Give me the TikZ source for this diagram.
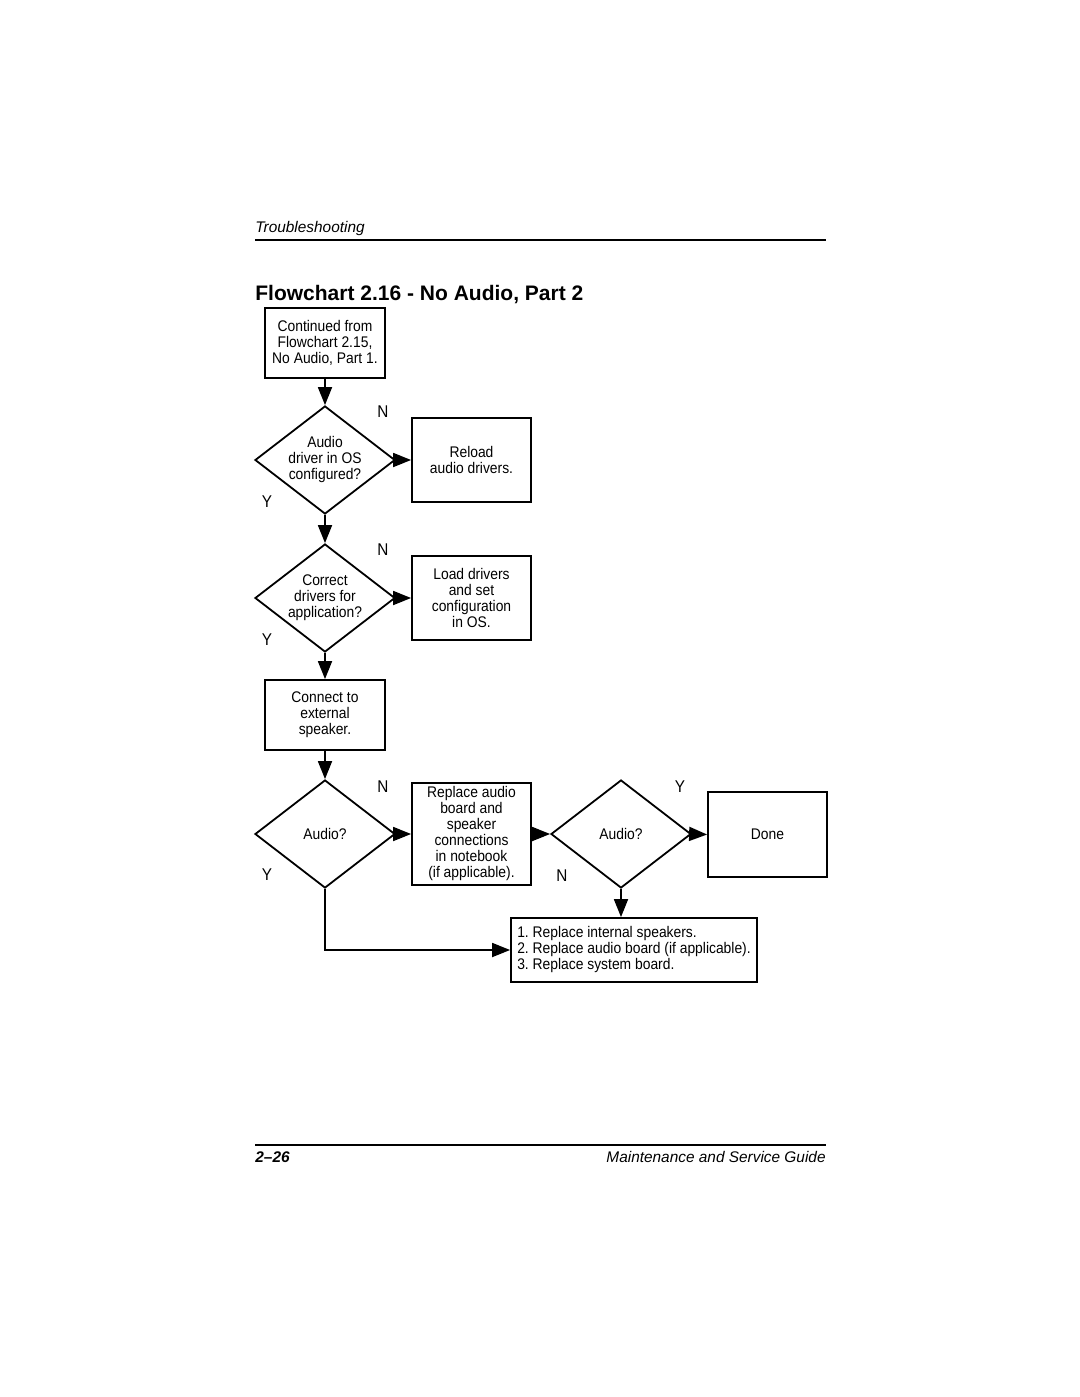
\documentclass[tikz,border=0pt]{standalone}
\usepackage{fontspec}
\setmainfont{Liberation Sans}
\newfontfamily\cond[FakeStretch=0.9]{Liberation Sans}
\usetikzlibrary{shapes.geometric,arrows.meta}
\frenchspacing
\begin{document}
\begin{tikzpicture}[x=0.5pt,y=-0.5pt,
  every node/.style={font=\cond\fontsize{7.7}{8}\selectfont},
  box/.style={draw,line width=0.9pt,align=center,inner sep=0pt},
  dia/.style={draw,line width=0.9pt,shape=diamond,align=center,inner sep=0pt,aspect=1.3,minimum width=70pt,minimum height=54pt},
  arr/.style={line width=0.9pt,-{Triangle[length=9pt,width=7pt]}},
  yn/.style={inner sep=0pt,font=\cond\fontsize{8.5}{9}\selectfont}]
\useasboundingbox (0,0) rectangle (1080,1397);
% header
\node[anchor=base west,inner sep=0pt,font=\itshape\fontsize{7.7}{8}\selectfont] (hdr) at (255,232) {Troubleshooting};
\draw[line width=0.6pt] (255,240) coordinate (hl) -- (826,240) coordinate (hr);
\node[anchor=base west,inner sep=0pt,font=\bfseries\fontsize{10.5}{12}\selectfont] (title) at (255,300) {Flowchart 2.16 - No Audio, Part 2};
% nodes
\node[box,minimum width=60pt,minimum height=35pt] (b1) at (325,343) {Continued from\\Flowchart 2.15,\\No Audio, Part 1.};
\node[dia] (d1) at (325,460) {Audio\\driver in OS\\configured?};
\node[box,minimum width=59.5pt,minimum height=42pt] (reload) at (471.5,460) {Reload\\audio drivers.};
\node[dia] (d2) at (325,598) {Correct\\drivers for\\application?};
\node[box,minimum width=59.5pt,minimum height=42pt] (load) at (471.5,598) {Load drivers\\and set\\configuration\\in OS.};
\node[box,minimum width=60pt,minimum height=35pt] (b3) at (325,715) {Connect to\\external\\speaker.};
\node[dia] (d3) at (325,834) {Audio?};
\node[box,minimum width=59.5pt,minimum height=51pt] (b4) at (471.5,834) {Replace audio\\board and\\speaker\\connections\\in notebook\\(if applicable).};
\node[dia] (d4) at (621,834) {Audio?};
\node[box,minimum width=59.5pt,minimum height=42.5pt] (done) at (767.5,834.5) {Done};
\node[box,minimum width=123pt,minimum height=32pt,align=left] (b5) at (634,950) {1. Replace internal speakers.\\2. Replace audio board (if applicable).\\3. Replace system board.};
% labels
\node[yn] (n1) at (383,412) {N};
\node[yn] (y1) at (267,502) {Y};
\node[yn] (n2) at (383,550) {N};
\node[yn] (y2) at (267,640) {Y};
\node[yn] (n3) at (383,787) {N};
\node[yn] (y3) at (267,875) {Y};
\node[yn] (y4) at (680,787) {Y};
\node[yn] (n4) at (562,876) {N};
% connectors
\draw[arr] (b1) -- (d1);
\draw[arr] (d1.east) -- (reload.west);
\draw[arr] (d1) -- (d2);
\draw[arr] (d2.east) -- (load.west);
\draw[arr] (d2) -- (b3);
\draw[arr] (b3) -- (d3);
\draw[arr] (d3.east) -- (b4.west);
\draw[arr] (b4.east) -- (d4.west);
\draw[arr] (d4.east) -- (done.west);
\draw[arr] (d4.south) -- (d4.south |- b5.north);
\draw[arr] (d3.south) |- (b5.west);
% footer
\draw[line width=0.6pt] (255,1145) coordinate (fl) -- (826,1145) coordinate (fr);
\node[anchor=base west,inner sep=0pt,font=\bfseries\itshape\fontsize{7.7}{8}\selectfont] (pg) at (255,1162) {2--26};
\node[anchor=base east,inner sep=0pt,font=\itshape\fontsize{7.7}{8}\selectfont] (guide) at (826,1162) {Maintenance and Service Guide};
\end{tikzpicture}
\end{document}
